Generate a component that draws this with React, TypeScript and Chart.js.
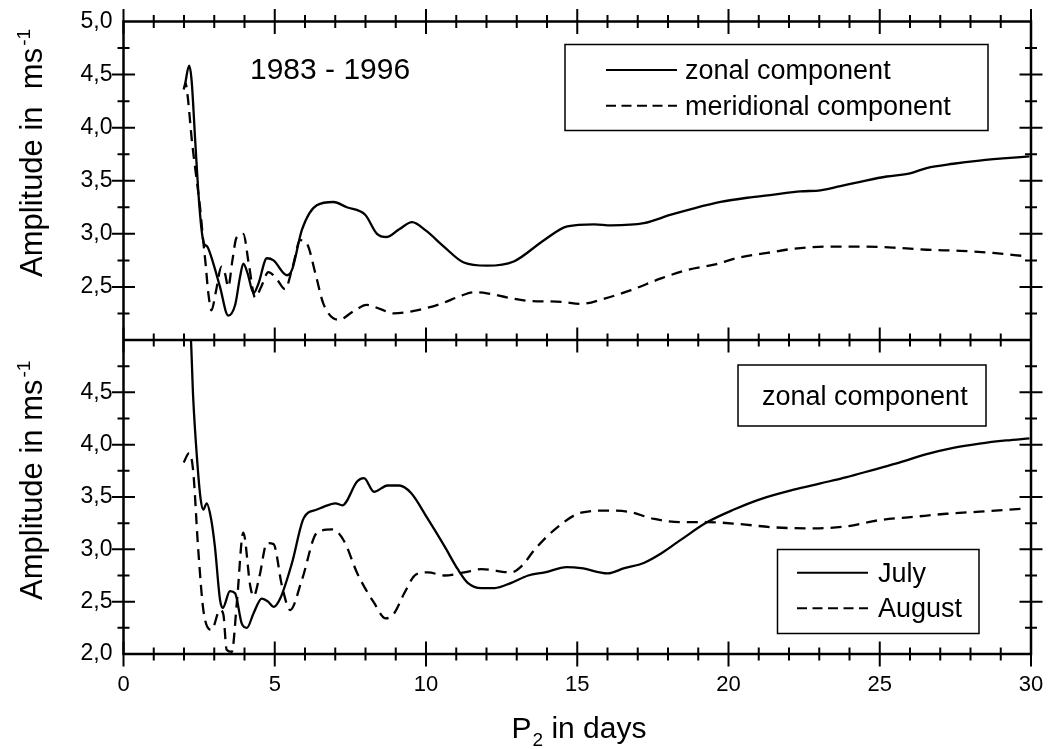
import { useEffect, useRef } from 'react';
import { Chart, registerables } from 'chart.js';

Chart.register(...registerables);

// ---- data (period in days, amplitude in m/s) ----
const topZonalDays = [2.03, 2.17, 2.25, 2.37, 2.47, 2.58, 2.66, 2.77, 2.97, 3.19, 3.46, 3.69, 3.85, 3.96, 4.1, 4.3, 4.46, 4.74, 4.96, 5.4, 5.57, 5.9, 6.39, 6.94, 7.38, 7.99, 8.38, 8.71, 9.1, 9.54, 10.0, 10.59, 11.25, 12.02, 12.9, 13.9, 14.67, 15.57, 16.12, 17.2, 18.1, 18.86, 19.74, 20.62, 21.5, 22.38, 23.04, 23.7, 24.35, 25.23, 26.0, 26.55, 27.43, 28.3, 29.07, 29.95];
const topZonalAmp = [4.40, 4.585, 4.45, 3.88, 3.41, 3.04, 2.91, 2.88, 2.72, 2.50, 2.23, 2.33, 2.59, 2.72, 2.63, 2.44, 2.53, 2.77, 2.75, 2.61, 2.66, 3.04, 3.27, 3.30, 3.25, 3.18, 3.00, 2.97, 3.04, 3.11, 3.03, 2.88, 2.73, 2.70, 2.74, 2.94, 3.07, 3.09, 3.08, 3.10, 3.18, 3.24, 3.30, 3.34, 3.37, 3.40, 3.41, 3.45, 3.49, 3.54, 3.57, 3.62, 3.66, 3.69, 3.71, 3.73];

const topMeridDays = [1.99, 2.05, 2.12, 2.26, 2.4, 2.53, 2.63, 2.72, 2.8, 2.91, 3.05, 3.24, 3.36, 3.46, 3.6, 3.73, 3.96, 4.15, 4.35, 4.55, 4.79, 5.05, 5.34, 5.6, 5.84, 6.06, 6.35, 6.61, 7.11, 7.6, 8.04, 8.5, 8.93, 9.7, 10.48, 11.1, 11.58, 12.02, 12.7, 13.35, 14.47, 15.13, 15.9, 16.78, 17.77, 18.64, 19.52, 20.4, 21.28, 22.16, 23.25, 24.35, 25.45, 26.55, 27.65, 28.74, 29.8];
const topMeridAmp = [4.36, 4.42, 4.30, 3.88, 3.55, 3.25, 2.95, 2.70, 2.45, 2.28, 2.45, 2.69, 2.62, 2.50, 2.75, 2.96, 3.00, 2.70, 2.40, 2.50, 2.64, 2.58, 2.48, 2.70, 2.94, 2.91, 2.62, 2.34, 2.19, 2.27, 2.33, 2.29, 2.25, 2.28, 2.34, 2.41, 2.45, 2.44, 2.40, 2.37, 2.36, 2.34, 2.39, 2.47, 2.58, 2.66, 2.71, 2.78, 2.82, 2.86, 2.88, 2.88, 2.87, 2.85, 2.84, 2.82, 2.79];

const julyDays = [2.0, 2.23, 2.3, 2.44, 2.55, 2.64, 2.75, 2.89, 3.02, 3.19, 3.28, 3.52, 3.69, 3.91, 4.08, 4.3, 4.57, 4.78, 4.96, 5.18, 5.57, 5.96, 6.4, 6.84, 7.01, 7.23, 7.73, 7.95, 8.28, 8.73, 9.11, 9.5, 10.06, 10.61, 11.05, 11.38, 11.83, 12.27, 12.82, 13.38, 13.93, 14.65, 15.13, 16.0, 16.56, 17.2, 17.77, 18.42, 19.3, 20.18, 21.06, 22.16, 23.04, 23.91, 24.79, 25.67, 26.55, 27.43, 28.3, 29.18, 29.95];
const julyAmp = [5.8, 5.0, 4.47, 3.83, 3.48, 3.38, 3.44, 3.30, 3.03, 2.52, 2.44, 2.60, 2.58, 2.29, 2.25, 2.39, 2.53, 2.50, 2.45, 2.53, 2.87, 3.30, 3.38, 3.43, 3.44, 3.42, 3.65, 3.68, 3.55, 3.61, 3.61, 3.54, 3.29, 3.03, 2.81, 2.68, 2.63, 2.63, 2.68, 2.75, 2.78, 2.83, 2.82, 2.77, 2.82, 2.87, 2.96, 3.09, 3.26, 3.38, 3.48, 3.57, 3.63, 3.69, 3.76, 3.83, 3.91, 3.97, 4.01, 4.04, 4.06];

const augustDays = [1.99, 2.17, 2.3, 2.47, 2.64, 2.91, 3.19, 3.3, 3.41, 3.58, 3.75, 3.96, 4.19, 4.3, 4.5, 4.74, 4.96, 5.24, 5.51, 5.9, 6.4, 6.9, 7.29, 7.73, 8.28, 8.67, 8.95, 9.28, 9.67, 10.06, 10.61, 11.27, 11.83, 12.82, 13.16, 13.6, 14.26, 15.13, 16.0, 16.67, 17.55, 18.42, 19.3, 20.4, 21.5, 22.82, 23.91, 25.01, 26.11, 27.21, 28.3, 29.84];
const augustAmp = [3.83, 3.92, 3.76, 3.0, 2.42, 2.23, 2.42, 2.38, 2.04, 2.02, 2.5, 3.16, 2.65, 2.55, 2.75, 3.06, 3.05, 2.65, 2.42, 2.71, 3.16, 3.19, 3.08, 2.77, 2.49, 2.34, 2.39, 2.58, 2.76, 2.78, 2.75, 2.78, 2.81, 2.78, 2.84, 3.0, 3.19, 3.35, 3.37, 3.36, 3.29, 3.26, 3.26, 3.24, 3.21, 3.20, 3.22, 3.28, 3.31, 3.34, 3.36, 3.39];

// axis ranges / ticks
const xRange = [0, 30];
const yRange = [2, 5];
const xMajorStep = 5;
const yMajorStep = 0.5;

const topTitle = '1983 - 1996';
const topLegend = ['zonal component', 'meridional component'];
const bottomLabel = 'zonal component';
const bottomLegend = ['July', 'August'];

const FONT = "'Liberation Sans', Arial, Helvetica, sans-serif";
const DASH = [11, 7];

const toPoints = (xs: number[], ys: number[]) => xs.map((x, i) => ({ x, y: ys[i] }));
const fmt = (v: number) => v.toFixed(1).replace('.', ',');

const framePlugin = {
  id: 'frameTicksText',
  afterDraw(chart: any) {
    const ctx: CanvasRenderingContext2D = chart.ctx;
    const xs = chart.scales.x;
    const yT = chart.scales.yTop;
    const yB = chart.scales.yBot;
    const left = xs.left, right = xs.right;
    const top = yT.top, mid = yT.bottom, bottom = yB.bottom;
    ctx.save();
    ctx.strokeStyle = '#000';
    ctx.fillStyle = '#000';
    ctx.lineCap = 'butt';
    // frame
    ctx.lineWidth = 2.5;
    ctx.strokeRect(left, top, right - left, bottom - top);
    ctx.beginPath();
    ctx.moveTo(left, mid);
    ctx.lineTo(right, mid);
    ctx.stroke();
    // x ticks (top, middle, bottom lines)
    ctx.lineWidth = 2;
    ctx.beginPath();
    for (let d = xRange[0]; d <= xRange[1]; d++) {
      const px = xs.getPixelForValue(d);
      const L = d % xMajorStep === 0 ? 12.5 : 6.5;
      for (const yy of [top, mid, bottom]) {
        ctx.moveTo(px, yy - L);
        ctx.lineTo(px, yy + L);
      }
    }
    // y ticks (left and right, both panels)
    for (const s of [yT, yB]) {
      for (let k = 1; k < 12; k++) {
        const v = yRange[0] + k * (yMajorStep / 2);
        const py = s.getPixelForValue(v);
        const L = k % 2 === 0 ? 11.5 : 6;
        ctx.moveTo(left - L, py);
        ctx.lineTo(left + L, py);
        ctx.moveTo(right - L, py);
        ctx.lineTo(right + L, py);
      }
    }
    ctx.stroke();

    // y axis titles
    const drawYTitle = (text: string, x: number, y: number) => {
      ctx.save();
      ctx.translate(x, y);
      ctx.rotate(-Math.PI / 2);
      ctx.textAlign = 'left';
      ctx.textBaseline = 'alphabetic';
      ctx.font = `31px ${FONT}`;
      ctx.fillText(text, 0, 0);
      const w = ctx.measureText(text).width;
      ctx.font = `19px ${FONT}`;
      ctx.fillText('-1', w + 2, -12);
      ctx.restore();
    };
    drawYTitle('Amplitude in  ms', 42, 277);
    drawYTitle('Amplitude in ms', 42, 600);

    // x axis title
    ctx.textAlign = 'left';
    ctx.textBaseline = 'alphabetic';
    const bx = 511.5, by = 737.5;
    ctx.font = `30px ${FONT}`;
    ctx.fillText('P', bx, by);
    const wP = ctx.measureText('P').width;
    ctx.font = `19px ${FONT}`;
    ctx.fillText('2', bx + wP + 1, by + 8);
    const w2 = ctx.measureText('2').width;
    ctx.font = `30px ${FONT}`;
    ctx.fillText(' in days', bx + wP + 1 + w2, by);

    // period label
    ctx.font = `30px ${FONT}`;
    ctx.fillText(topTitle, 250, 79);

    // legends
    const sample = (x1: number, x2: number, y: number, dashed: boolean) => {
      ctx.save();
      ctx.lineWidth = 2;
      ctx.setLineDash(dashed ? [10, 5.5] : []);
      ctx.beginPath();
      ctx.moveTo(x1, y);
      ctx.lineTo(x2, y);
      ctx.stroke();
      ctx.restore();
    };
    ctx.lineWidth = 1.5;
    ctx.font = `27px ${FONT}`;
    // top legend
    ctx.strokeRect(565, 44.5, 423, 86);
    sample(606, 677, 70, false);
    ctx.fillText(topLegend[0], 685, 78.5);
    sample(606, 677, 105.7, true);
    ctx.fillText(topLegend[1], 685, 115);
    // bottom label box
    ctx.lineWidth = 1.5;
    ctx.strokeRect(738, 365, 248, 61);
    ctx.fillText(bottomLabel, 762, 405);
    // bottom legend
    ctx.strokeRect(777.5, 549.5, 201.5, 84);
    sample(797, 868, 572.7, false);
    ctx.fillText(bottomLegend[0], 878, 581.7);
    sample(797, 868, 608.3, true);
    ctx.fillText(bottomLegend[1], 878, 617.3);
    ctx.restore();
  },
};

const zeroPad = (s: any) => {
  s.paddingLeft = 0;
  s.paddingRight = 0;
  s.paddingTop = 0;
  s.paddingBottom = 0;
};

export default function App() {
  const ref = useRef<HTMLCanvasElement>(null);
  useEffect(() => {
    if (!ref.current) return;
    const tickFont = { family: FONT, size: 22 };
    const yTickFont = { family: FONT, size: 23 };
    const lineDs = (label: string, xs: number[], ys: number[], axis: string, dashed: boolean) => ({
      label,
      data: toPoints(xs, ys),
      yAxisID: axis,
      borderColor: '#000',
      borderWidth: 2.3,
      borderDash: dashed ? DASH : [],
      pointRadius: 0,
      fill: false,
      cubicInterpolationMode: 'monotone' as const,
      clip: 0,
    });
    const chart = new Chart(ref.current, {
      type: 'line',
      data: {
        datasets: [
          lineDs(topLegend[0], topZonalDays, topZonalAmp, 'yTop', false),
          lineDs(topLegend[1], topMeridDays, topMeridAmp, 'yTop', true),
          lineDs(bottomLegend[0], julyDays, julyAmp, 'yBot', false),
          lineDs(bottomLegend[1], augustDays, augustAmp, 'yBot', true),
        ],
      },
      options: {
        animation: false,
        responsive: true,
        maintainAspectRatio: false,
        events: [],
        parsing: false as any,
        layout: { padding: { top: 21.5, right: 17, bottom: 0, left: 0 } },
        plugins: { legend: { display: false }, tooltip: { enabled: false } },
        scales: {
          x: {
            type: 'linear',
            position: 'bottom',
            min: xRange[0],
            max: xRange[1],
            grid: { display: false, drawTicks: false },
            border: { display: false },
            ticks: {
              stepSize: xMajorStep,
              padding: 18,
              color: '#000',
              font: tickFont,
              maxRotation: 0,
              autoSkip: false,
              callback: (v: any) => String(v),
            },
            afterFit: (s: any) => { s.height = 95; zeroPad(s); },
          },
          yTop: {
            type: 'linear',
            position: 'left',
            stack: 'panels',
            stackWeight: 318.5,
            weight: 2,
            min: yRange[0],
            max: yRange[1],
            grid: { display: false, drawTicks: false },
            border: { display: false },
            ticks: {
              stepSize: yMajorStep,
              padding: 11,
              color: '#000',
              font: yTickFont,
              autoSkip: false,
              callback: (v: any) => (Math.abs(v - yRange[0]) < 1e-9 ? '' : fmt(Number(v))),
            },
            afterFit: (s: any) => { s.width = 123.5; zeroPad(s); },
          },
          yBot: {
            type: 'linear',
            position: 'left',
            stack: 'panels',
            stackWeight: 314,
            weight: 1,
            min: yRange[0],
            max: yRange[1],
            grid: { display: false, drawTicks: false },
            border: { display: false },
            ticks: {
              stepSize: yMajorStep,
              padding: 11,
              color: '#000',
              font: yTickFont,
              autoSkip: false,
              callback: (v: any) => (Math.abs(v - yRange[1]) < 1e-9 ? '' : fmt(Number(v))),
            },
            afterFit: (s: any) => { s.width = 123.5; zeroPad(s); },
          },
        },
      } as any,
      plugins: [framePlugin],
    });
    return () => chart.destroy();
  }, []);
  return (
    <div style={{ position: 'fixed', left: 0, top: 0, width: 1048, height: 749, background: '#fff' }}>
      <canvas ref={ref} />
    </div>
  );
}
